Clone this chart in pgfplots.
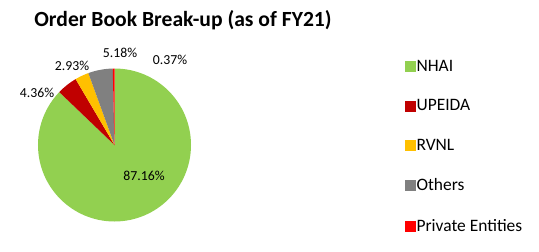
\documentclass[border=0pt]{standalone}
\usepackage{pgfplots}
\pgfplotsset{compat=1.18}
\usepackage{pgfplotstable}
\usepackage{fontspec}
\setmainfont{Carlito}
\definecolor{nhai}{HTML}{92D050}
\definecolor{upeida}{HTML}{C00000}
\definecolor{rvnl}{HTML}{FFC000}
\definecolor{others}{HTML}{808080}
\definecolor{private}{HTML}{FF0000}

\pgfplotstableread{
share color
87.16 nhai
4.36 upeida
2.93 rvnl
5.18 others
0.37 private
}\piedata

\begin{document}
\begin{tikzpicture}
\begin{axis}[
  hide axis, scale only axis, clip=false,
  x=1bp, y=1bp, xmin=0, xmax=539, ymin=0, ymax=251,
  legend style={at={(axis cs:405,192)}, anchor=north west, draw=none, fill=none,
    font=\fontsize{17.5}{20}\selectfont, row sep=24.8bp, inner sep=0pt,
    /tikz/every odd column/.append style={column sep=0bp},
    nodes={inner sep=1bp}},
  legend cell align=left,
  legend image code/.code={\fill[#1] (0bp,-5bp) rectangle (10bp,5bp);},
]
\path (axis cs:0,0) rectangle (axis cs:539,251);
\def\cum{0}
\pgfplotstablegetrowsof{\piedata}
\pgfmathtruncatemacro\nrows{\pgfplotsretval-1}
\pgfplotsforeachungrouped \i in {0,...,\nrows}{%
  \pgfplotstablegetelem{\i}{share}\of\piedata \let\v\pgfplotsretval
  \pgfplotstablegetelem{\i}{color}\of\piedata \let\c\pgfplotsretval
  \pgfmathsetmacro\a{90-3.6*\cum}%
  \pgfmathsetmacro\b{90-3.6*(\cum+\v)}%
  \pgfmathsetmacro\cum{\cum+\v}%
  \edef\temp{\noexpand\fill[\c] (axis cs:114.5,106) -- ++(\a:76.5bp) arc[start angle=\a, end angle=\b, radius=76.5bp] -- cycle;}%
  \temp
}
\addlegendimage{nhai}\addlegendentry{NHAI}
\addlegendimage{upeida}\addlegendentry{UPEIDA}
\addlegendimage{rvnl}\addlegendentry{RVNL}
\addlegendimage{others}\addlegendentry{Others}
\addlegendimage{private}\addlegendentry{Private Entities}
\node[font=\bfseries\fontsize{21.7}{25}\selectfont] at (axis cs:183,231) {Order Book Break-up (as of FY21)};
\begin{scope}[every node/.style={font=\fontsize{13.8}{16}\selectfont, inner sep=0pt}]
\node at (axis cs:144,75) {87.16\%};
\node at (axis cs:37,158) {4.36\%};
\node at (axis cs:72,185) {2.93\%};
\node at (axis cs:120,198) {5.18\%};
\node at (axis cs:170,191) {0.37\%};
\end{scope}
\end{axis}
\end{tikzpicture}
\end{document}
